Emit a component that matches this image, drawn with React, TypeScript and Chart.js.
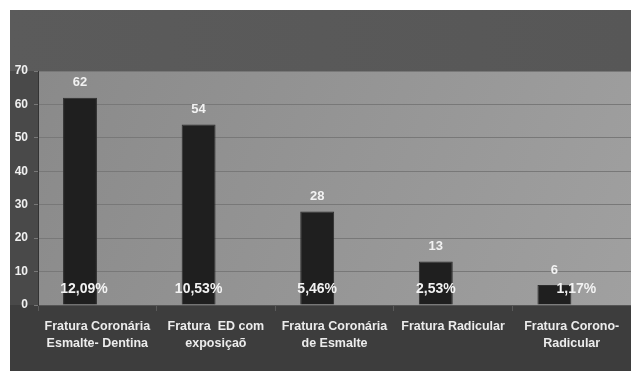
import React, { useEffect, useRef } from "react";
import { Chart, registerables } from "chart.js";

Chart.register(...registerables);

const categories: string[][] = [
  ["Fratura Coronária", "Esmalte- Dentina"],
  ["Fratura  ED com", "exposiçaõ"],
  ["Fratura Coronária", "de Esmalte"],
  ["Fratura Radicular"],
  ["Fratura Corono-", "Radicular"],
];
const counts: number[] = [62, 54, 28, 13, 6];
const percents: string[] = ["12,09%", "10,53%", "5,46%", "2,53%", "1,17%"];
const yTicks: number[] = [0, 10, 20, 30, 40, 50, 60, 70];

const percentOffsets = [4, 0, 0, 0, 22];
const FONT = "'Liberation Sans', Arial, sans-serif";

const bgPlugin = {
  id: "bgPlugin",
  beforeDraw(chart: any) {
    const { ctx, chartArea, width, height } = chart;
    ctx.save();
    ctx.fillStyle = "#3d3d3d";
    ctx.fillRect(0, 0, width, height);
    const g1 = ctx.createLinearGradient(0, 0, width, 0);
    g1.addColorStop(0, "#5b5b5b");
    g1.addColorStop(1, "#575757");
    ctx.fillStyle = g1;
    ctx.fillRect(0, 0, width, chartArea.top);
    ctx.fillStyle = "#494949";
    ctx.fillRect(0, chartArea.top, chartArea.left, chartArea.bottom - chartArea.top);
    const g2 = ctx.createLinearGradient(chartArea.left, chartArea.top, chartArea.right, chartArea.bottom);
    g2.addColorStop(0, "#8a8a8a");
    g2.addColorStop(1, "#a0a0a0");
    ctx.fillStyle = g2;
    ctx.fillRect(chartArea.left, chartArea.top, chartArea.right - chartArea.left, chartArea.bottom - chartArea.top);
    ctx.restore();
  },
  afterDatasetsDraw(chart: any) {
    const { ctx } = chart;
    const meta = chart.getDatasetMeta(0);
    const y0 = chart.scales.y.getPixelForValue(0);
    ctx.save();
    ctx.textAlign = "center";
    ctx.textBaseline = "middle";
    ctx.fillStyle = "#f2f2f2";
    meta.data.forEach((bar: any, i: number) => {
      ctx.font = `bold 13px ${FONT}`;
      ctx.fillText(String(counts[i]), bar.x, bar.y - 15);
      ctx.font = `bold 14px ${FONT}`;
      ctx.fillText(percents[i], bar.x + percentOffsets[i], y0 - 16);
    });
    ctx.restore();
  },
};

export default function App() {
  const ref = useRef<HTMLCanvasElement>(null);
  useEffect(() => {
    if (!ref.current) return;
    const chart = new Chart(ref.current, {
      type: "bar",
      data: {
        labels: categories,
        datasets: [
          {
            data: counts,
            backgroundColor: "#1f1f1f",
            borderColor: "#2e2e2e",
            borderWidth: 1,
            categoryPercentage: 0.5835,
            barPercentage: 0.98,
          },
          {
            data: counts.map(() => null),
            backgroundColor: "transparent",
            categoryPercentage: 0.5835,
            barPercentage: 0.98,
          },
        ],
      },
      options: {
        animation: false,
        responsive: false,
        maintainAspectRatio: false,
        layout: { padding: { top: 61, right: 0, left: 0, bottom: 0 } },
        plugins: { legend: { display: false }, tooltip: { enabled: false } },
        scales: {
          x: {
            grid: {
              drawOnChartArea: false,
              drawTicks: true,
              tickLength: 6,
              color: "#5a5a5a",
              offset: true,
            },
            border: { display: true, color: "#555555", width: 1 },
            ticks: {
              color: "#ececec",
              font: { family: FONT, size: 12.5, weight: "bold", lineHeight: 1.36 },
              padding: 7,
              maxRotation: 0,
              autoSkip: false,
            },
            afterFit(scale: any) {
              scale.height = 66;
            },
          },
          y: {
            min: 0,
            max: 70,
            afterBuildTicks(scale: any) {
              scale.ticks = yTicks.map((v) => ({ value: v }));
            },
            grid: {
              color: "#787878",
              lineWidth: 1,
              tickLength: 4,
              drawTicks: true,
            },
            border: { display: true, color: "#333333", width: 1 },
            ticks: {
              color: "#f0f0f0",
              font: { family: FONT, size: 12, weight: "bold" },
              padding: 6,
            },
            afterFit(scale: any) {
              scale.width = 28;
            },
          },
        },
      },
      plugins: [bgPlugin],
    });
    return () => chart.destroy();
  }, []);
  return (
    <div style={{ position: "absolute", left: 10, top: 10, width: 621, height: 361 }}>
      <canvas ref={ref} width={621} height={361} style={{ display: "block" }} />
    </div>
  );
}
